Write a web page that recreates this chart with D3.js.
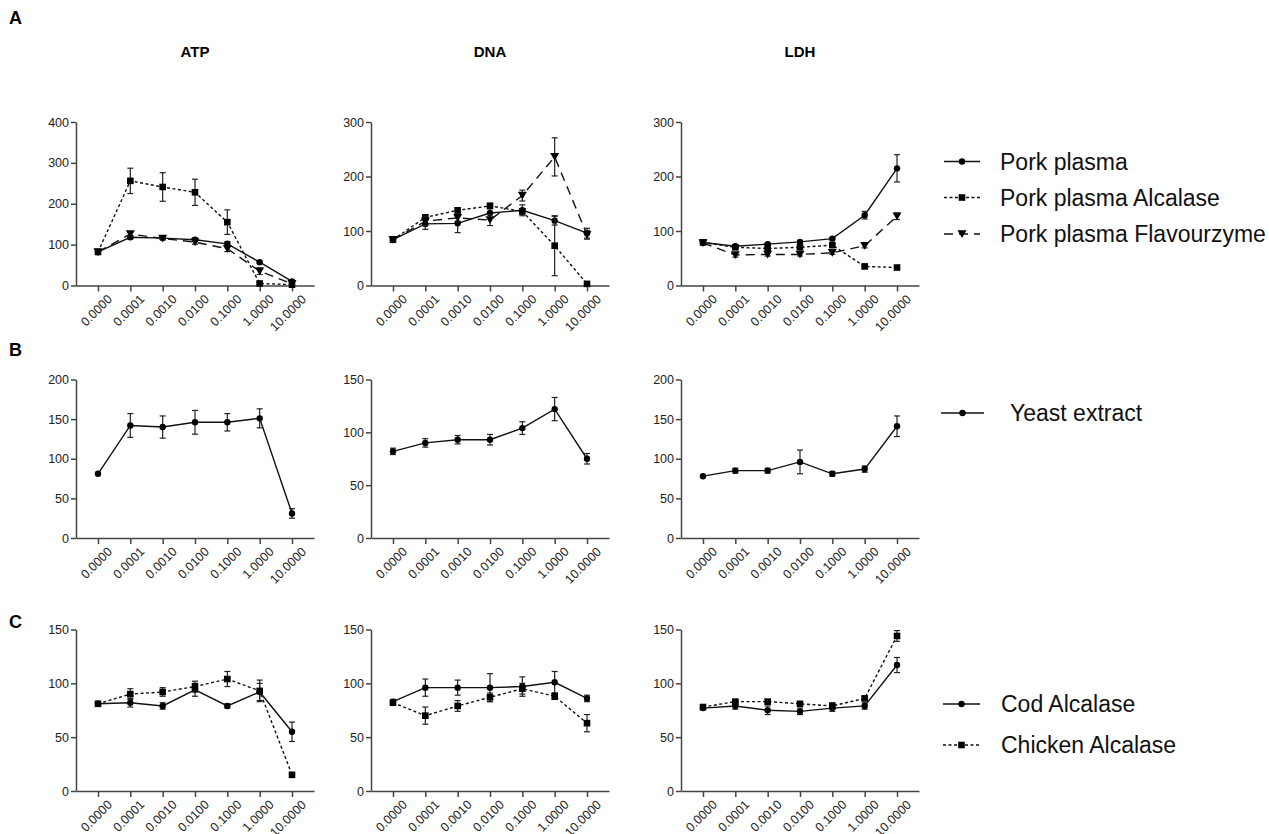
<!DOCTYPE html>
<html>
<head>
<meta charset="utf-8">
<script src="https://cdn.jsdelivr.net/npm/d3@7"></script>
<style>
  body { margin: 0; background: #fff; font-family: Arial, "Liberation Sans", sans-serif; }
  .axis path, .axis line { stroke: #444; stroke-width: 1.5px; }
  .legend text { font-size: 23px; fill: #111; }
</style>
</head>
<body>
<svg id="chart" width="1269" height="834"></svg>
<script>

// concentrations (x categories)
var doses = ["0.0000", "0.0001", "0.0010", "0.0100", "0.1000", "1.0000", "10.0000"];

// A: pork plasma hydrolysates
var atpPork      = [82, 118, 116, 112, 102, 57, 10];
var atpPorkErr   = [2, 4, 3, 4, 5, 2, 3];
var atpAlc       = [82, 256, 241, 228, 155, 5, 2];
var atpAlcErr    = [2, 31, 35, 32, 30, 2, 1];
var atpFla       = [82, 126, 115, 106, 90, 35, 4];
var atpFlaErr    = [2, 5, 3, 5, 7, 8, 3];

var dnaPork      = [84, 113, 114, 133, 138, 119, 96];
var dnaPorkErr   = [3, 10, 17, 10, 10, 8, 9];
var dnaAlc       = [84, 125, 138, 146, 136, 73, 3];
var dnaAlcErr    = [3, 5, 5, 5, 5, 55, 1];
var dnaFla       = [84, 118, 124, 120, 165, 236, 93];
var dnaFlaErr    = [3, 8, 6, 10, 10, 35, 8];

var ldhPork      = [79, 72, 76, 80, 86, 129, 215];
var ldhPorkErr   = [2, 2, 2, 2, 2, 7, 25];
var ldhAlc       = [79, 70, 68, 70, 74, 35, 33];
var ldhAlcErr    = [2, 2, 2, 2, 2, 2, 2];
var ldhFla       = [78, 56, 57, 57, 60, 73, 127];
var ldhFlaErr    = [2, 4, 3, 3, 3, 4, 6];

// B: yeast extract
var atpYeast     = [81, 142, 140, 146, 146, 151, 31];
var atpYeastErr  = [1, 15, 14, 15, 11, 12, 6];
var dnaYeast     = [82, 90, 93, 93, 104, 122, 75];
var dnaYeastErr  = [3, 4, 4, 5, 6, 11, 5];
var ldhYeast     = [78, 85, 85, 96, 81, 87, 141];
var ldhYeastErr  = [1, 3, 3, 15, 3, 4, 13];

// C: cod and chicken alcalase
var atpCod       = [81, 82, 79, 94, 79, 92, 55];
var atpCodErr    = [1, 4, 3, 6, 2, 8, 9];
var atpChk       = [81, 90, 92, 97, 104, 93, 15];
var atpChkErr    = [1, 5, 4, 5, 7, 10, 1];
var dnaCod       = [83, 96, 96, 96, 97, 101, 86];
var dnaCodErr    = [2, 8, 7, 13, 9, 10, 3];
var dnaChk       = [82, 70, 79, 87, 95, 88, 63];
var dnaChkErr    = [2, 8, 5, 4, 5, 3, 8];
var ldhCod       = [77, 79, 75, 74, 77, 79, 117];
var ldhCodErr    = [1, 3, 4, 3, 3, 3, 7];
var ldhChk       = [78, 83, 83, 81, 79, 86, 144];
var ldhChkErr    = [1, 2, 2, 2, 3, 2, 5];

var colTitles = ["ATP", "DNA", "LDH"];
var rowLetters = ["A", "B", "C"];

var styles = {
  solid:  { dash: null,  marker: "circle" },
  dotted: { dash: "3,2.5", marker: "square" },
  dashed: { dash: "9,6", marker: "triangle" }
};

var svg = d3.select("#chart");

// panel layout
var colX = [76, 371, 681];
var rows = [
  { top: 122, bottom: 285.5, letterY: 24 },
  { top: 379.5, bottom: 538, letterY: 356 },
  { top: 629.5, bottom: 791, letterY: 628 }
];

var panels = [
  { row: 0, col: 0, max: 400, step: 100, series: [
    { v: atpPork, e: atpPorkErr, s: "solid" }, { v: atpAlc, e: atpAlcErr, s: "dotted" }, { v: atpFla, e: atpFlaErr, s: "dashed" }] },
  { row: 0, col: 1, max: 300, step: 100, series: [
    { v: dnaPork, e: dnaPorkErr, s: "solid" }, { v: dnaAlc, e: dnaAlcErr, s: "dotted" }, { v: dnaFla, e: dnaFlaErr, s: "dashed" }] },
  { row: 0, col: 2, max: 300, step: 100, series: [
    { v: ldhPork, e: ldhPorkErr, s: "solid" }, { v: ldhAlc, e: ldhAlcErr, s: "dotted" }, { v: ldhFla, e: ldhFlaErr, s: "dashed" }] },
  { row: 1, col: 0, max: 200, step: 50, series: [{ v: atpYeast, e: atpYeastErr, s: "solid" }] },
  { row: 1, col: 1, max: 150, step: 50, series: [{ v: dnaYeast, e: dnaYeastErr, s: "solid" }] },
  { row: 1, col: 2, max: 200, step: 50, series: [{ v: ldhYeast, e: ldhYeastErr, s: "solid" }] },
  { row: 2, col: 0, max: 150, step: 50, series: [
    { v: atpCod, e: atpCodErr, s: "solid" }, { v: atpChk, e: atpChkErr, s: "dotted" }] },
  { row: 2, col: 1, max: 150, step: 50, series: [
    { v: dnaCod, e: dnaCodErr, s: "solid" }, { v: dnaChk, e: dnaChkErr, s: "dotted" }] },
  { row: 2, col: 2, max: 150, step: 50, series: [
    { v: ldhCod, e: ldhCodErr, s: "solid" }, { v: ldhChk, e: ldhChkErr, s: "dotted" }] }
];

function drawMarker(g, type, x, y) {
  if (type === "circle") {
    g.append("circle").attr("cx", x).attr("cy", y).attr("r", 3.2).attr("fill", "#000");
  } else if (type === "square") {
    g.append("rect").attr("x", x - 3.3).attr("y", y - 3.3).attr("width", 6.6).attr("height", 6.6).attr("fill", "#000");
  } else {
    g.append("path").attr("d", "M" + (x - 4.5) + "," + (y - 3.8) + "L" + (x + 4.5) + "," + (y - 3.8) + "L" + x + "," + (y + 4) + "Z")
      .attr("fill", "#000");
  }
}

panels.forEach(function(p) {
  var r = rows[p.row];
  var x0 = colX[p.col];
  var x = d3.scalePoint().domain(doses).range([x0, x0 + 238]).padding(0.68);
  var y = d3.scaleLinear().domain([0, p.max]).range([r.bottom, r.top]);
  var g = svg.append("g");

  var ya = g.append("g").attr("class", "axis")
    .attr("transform", "translate(" + x0 + ",0)")
    .call(d3.axisLeft(y).tickValues(d3.range(0, p.max + 1, p.step)).tickSize(5).tickSizeOuter(0).tickPadding(2));
  ya.attr("font-size", 12.5).attr("font-family", "Arial, 'Liberation Sans', sans-serif");
  ya.selectAll("text").attr("fill", "#222");

  var xa = g.append("g").attr("class", "axis")
    .attr("transform", "translate(0," + r.bottom + ")")
    .call(d3.axisBottom(x).tickSize(6).tickSizeOuter(0));
  xa.attr("font-size", 12.5).attr("font-family", "Arial, 'Liberation Sans', sans-serif");
  xa.selectAll("text")
    .attr("fill", "#222")
    .attr("text-anchor", "end")
    .attr("dy", "0.35em")
    .attr("transform", "translate(5,5) rotate(-45)");

  p.series.forEach(function(s) {
    var st = styles[s.s];
    var line = d3.line().x(function(d, i) { return x(doses[i]); }).y(function(d) { return y(d); });
    g.append("path").datum(s.v)
      .attr("d", line)
      .attr("fill", "none")
      .attr("stroke", "#111")
      .attr("stroke-width", 1.4)
      .attr("stroke-dasharray", st.dash);

    s.v.forEach(function(v, i) {
      var cx = x(doses[i]);
      var e = s.e[i];
      if (e > 1) {
        var y1 = y(v + e), y2 = y(Math.max(0, v - e));
        g.append("line").attr("x1", cx).attr("x2", cx).attr("y1", y1).attr("y2", y2)
          .attr("stroke", "#222").attr("stroke-width", 1.2);
        [y1, y2].forEach(function(yy) {
          g.append("line").attr("x1", cx - 3).attr("x2", cx + 3).attr("y1", yy).attr("y2", yy)
            .attr("stroke", "#222").attr("stroke-width", 1.2);
        });
      }
      drawMarker(g, st.marker, cx, y(v));
    });
  });
});

// column titles
colTitles.forEach(function(t, i) {
  svg.append("text").attr("x", colX[i] + 119).attr("y", 57)
    .attr("text-anchor", "middle").attr("font-weight", "bold").attr("font-size", 15).text(t);
});

// row letters
rowLetters.forEach(function(t, i) {
  svg.append("text").attr("x", 9).attr("y", rows[i].letterY)
    .attr("font-weight", "bold").attr("font-size", 18).text(t);
});

// legends
var legends = [
  { x: 944, x2: 980, tx: 1000, items: [
    { y: 161.5, s: "solid", label: "Pork plasma" },
    { y: 197.5, s: "dotted", label: "Pork plasma Alcalase" },
    { y: 234, s: "dashed", label: "Pork plasma Flavourzyme" }] },
  { x: 941, x2: 984, tx: 1010, items: [
    { y: 413, s: "solid", label: "Yeast extract" }] },
  { x: 943, x2: 980, tx: 1001, items: [
    { y: 704, s: "solid", label: "Cod Alcalase" },
    { y: 745, s: "dotted", label: "Chicken Alcalase" }] }
];

legends.forEach(function(L) {
  var lg = svg.append("g").attr("class", "legend");
  L.items.forEach(function(it) {
    var st = styles[it.s];
    lg.append("line").attr("x1", L.x).attr("x2", L.x2).attr("y1", it.y).attr("y2", it.y)
      .attr("stroke", "#111").attr("stroke-width", 1.4).attr("stroke-dasharray", st.dash);
    drawMarker(lg, st.marker, (L.x + L.x2) / 2, it.y);
    lg.append("text").attr("x", L.tx).attr("y", it.y).attr("dy", "0.35em").text(it.label);
  });
});

</script>
</body>
</html>
